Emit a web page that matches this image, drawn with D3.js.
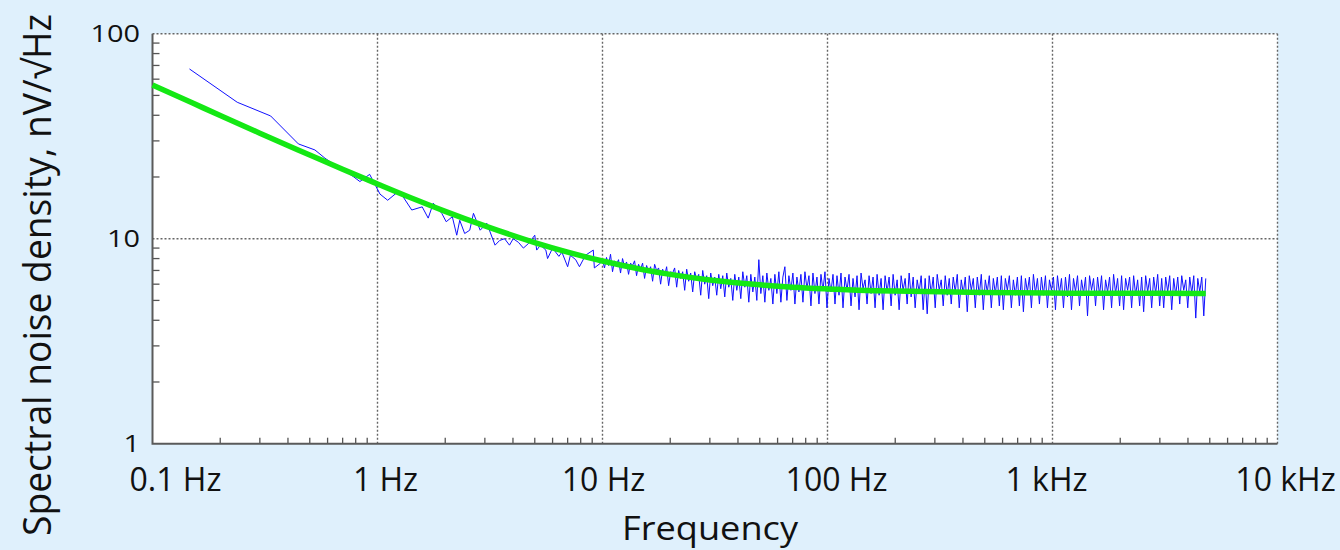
<!DOCTYPE html>
<html>
<head>
<meta charset="utf-8">
<script src="https://cdn.jsdelivr.net/npm/d3@7"></script>
<style>
  html, body { margin: 0; padding: 0; background: #dff0fc; }
  svg { display: block; }
</style>
</head>
<body>
<div id="chart"></div>
<script>
// Tick values and labels
const xTicks = [0.1, 1, 10, 100, 1000, 10000];
const xTickLabels = ["0.1 Hz", "1 Hz", "10 Hz", "100 Hz", "1 kHz", "10 kHz"];
const yTicks = [1, 10, 100];
const yTickLabels = ["1", "10", "100"];

// Green fit curve
const fitFreq = [0.1, 0.15, 0.2, 0.3, 0.5, 0.7, 1, 1.5, 2, 3, 5, 7, 10, 15, 20, 30, 50, 70, 100, 200, 500, 1000, 2000, 4800];
const fitValues = [56.2, 46.0, 39.9, 32.7, 25.6, 21.8, 18.5, 15.4, 13.6, 11.55, 9.58, 8.6, 7.78, 7.08, 6.7, 6.29, 5.96, 5.8, 5.69, 5.55, 5.46, 5.43, 5.42, 5.41];

// Measured noise, low-frequency part (sparse points)
const lowFreq = [0.146, 0.238, 0.335, 0.445, 0.527, 0.584, 0.65, 0.72, 0.78, 0.835, 0.923, 1.026, 1.11, 1.23, 1.30, 1.42, 1.58, 1.68, 1.77, 1.93, 2.02, 2.15, 2.25, 2.32, 2.44, 2.57, 2.67, 2.86, 3.06, 3.33, 3.49, 3.67, 3.86, 4.01, 4.23, 4.45, 4.70, 5.0, 5.1, 5.3, 5.6, 5.7, 6.0, 6.4, 6.6, 7.0, 7.2, 7.6, 7.9, 8.4, 9.1, 9.2, 9.8];
const lowValues = [67.3, 46.3, 39.7, 29.0, 27.1, 24.7, 22.8, 21.3, 20.1, 19.0, 20.6, 16.5, 15.4, 16.9, 16.0, 13.8, 14.3, 12.6, 14.9, 13.3, 12.1, 12.8, 10.4, 12.3, 10.6, 11.0, 13.3, 11.0, 11.9, 9.3, 9.8, 10.0, 9.3, 10.0, 9.6, 9.0, 9.5, 10.4, 8.8, 9.3, 8.8, 8.0, 9.0, 8.2, 8.6, 7.3, 8.3, 7.9, 7.3, 8.3, 8.8, 7.2, 7.6];

// Measured noise, dense part: log-spaced bins from denseStart to denseEnd
const denseStart = 10;
const denseEnd = 4800;
const denseValues = [
  7.9,7.2,8.1,7.4,8.4,6.9,7.8,7.5,7.9,6.8,8.0,7.3,7.7,6.7,7.6,7.4,7.8,6.6,7.5,7.1,
  7.6,6.4,7.4,6.9,7.3,6.2,7.5,7.0,7.2,6.0,7.1,6.6,7.3,5.9,6.9,6.8,7.2,5.8,7.0,6.4,
  6.9,5.6,7.1,6.2,6.8,5.5,6.9,6.3,6.7,5.3,7.0,6.0,6.6,5.1,6.8,5.9,6.5,5.3,6.7,5.7,
  6.6,5.2,6.8,5.8,6.4,5.0,6.7,5.6,6.5,5.1,6.9,5.8,6.6,4.9,6.7,5.5,6.5,5.0,7.9,5.4,
  6.6,4.9,6.8,5.6,6.4,4.8,6.7,5.4,6.9,4.9,6.5,7.3,5.0,6.6,5.6,6.8,4.8,6.5,5.5,6.7,
  4.9,6.9,5.7,6.6,4.7,6.8,5.4,6.5,4.8,6.7,5.6,6.9,4.6,6.4,5.5,6.7,4.8,6.6,5.3,6.8,
  4.6,6.5,5.6,6.7,4.7,6.4,5.2,6.6,4.5,6.8,5.7,6.3,4.8,6.6,5.4,6.5,4.6,6.7,5.3,6.4,
  4.5,6.6,5.5,6.5,4.7,6.7,5.3,6.3,4.5,6.6,5.6,6.4,4.8,6.8,5.2,6.5,4.6,6.3,5.5,6.6,
  4.5,6.4,4.3,6.6,5.4,6.5,4.6,6.7,5.6,6.3,4.7,6.6,5.3,6.4,4.8,6.5,5.5,6.7,4.6,6.3,
  5.4,6.5,4.4,6.6,5.6,6.4,4.6,6.5,5.3,6.7,4.5,6.3,5.5,6.6,4.6,6.4,5.4,6.5,4.7,6.6,
  4.5,6.4,5.6,6.6,4.6,6.3,5.3,6.5,4.7,6.6,4.4,6.4,5.5,6.5,4.6,6.7,5.4,6.4,4.8,6.5,
  5.3,6.6,4.6,6.3,5.6,6.5,4.5,6.6,5.4,6.4,4.6,6.5,5.2,6.7,4.5,6.4,5.5,6.6,4.7,6.3,
  5.4,6.5,4.2,6.6,5.6,6.4,4.7,6.5,5.3,6.6,4.5,6.3,5.5,6.5,4.6,6.7,5.4,6.4,4.7,6.6,
  4.5,6.4,5.6,6.5,4.6,6.6,5.3,6.3,4.7,6.5,4.4,6.6,5.5,6.4,4.6,6.5,5.4,6.7,4.7,6.4,
  4.6,6.5,5.5,6.6,4.5,6.4,5.3,6.5,4.8,6.6,5.6,6.3,4.6,6.5,5.4,6.6,4.1,6.4,5.5,6.5,4.2,6.4
];

// Dimensions
const width = 1340;
const height = 550;
const marginLeft = 152.5;
const marginRight = 62.5;
const marginTop = 33.7;
const marginBottom = 106.3;

const x = d3.scaleLog()
  .domain([0.1, 10000])
  .range([marginLeft, width - marginRight]);

const y = d3.scaleLog()
  .domain([1, 100])
  .range([height - marginBottom, marginTop]);

const svg = d3.select("#chart")
  .append("svg")
    .attr("width", width)
    .attr("height", height)
    .attr("viewBox", [0, 0, width, height])
    .style("font-family", "'Open Sans', sans-serif");

// background
svg.append("rect")
  .attr("width", width).attr("height", height)
  .attr("fill", "#dff0fc");

// plot area
svg.append("rect")
  .attr("x", marginLeft).attr("y", marginTop)
  .attr("width", width - marginRight - marginLeft)
  .attr("height", height - marginBottom - marginTop)
  .attr("fill", "#ffffff");

const x0 = marginLeft, x1 = width - marginRight;
const y0 = height - marginBottom, y1 = marginTop;

// dotted grid + top/right frame
const grid = svg.append("g")
  .attr("stroke", "#666")
  .attr("stroke-width", 1.4)
  .attr("stroke-dasharray", "2,2");

grid.selectAll("line.vx")
  .data(xTicks.slice(1))
  .join("line")
    .attr("x1", d => x(d)).attr("x2", d => x(d))
    .attr("y1", y1).attr("y2", y0);

grid.selectAll("line.hy")
  .data(yTicks.slice(1))
  .join("line")
    .attr("y1", d => y(d)).attr("y2", d => y(d))
    .attr("x1", x0).attr("x2", x1);

// minor ticks
const minorX = [];
xTicks.slice(0, -1).forEach(t => { for (let k = 2; k <= 9; k++) minorX.push(t * k); });
const minorY = [];
yTicks.slice(0, -1).forEach(t => { for (let k = 2; k <= 9; k++) minorY.push(t * k); });

const ticks = svg.append("g")
  .attr("stroke", "#555")
  .attr("stroke-width", 1.3);

ticks.selectAll("line.mx")
  .data(minorX)
  .join("line")
    .attr("x1", d => x(d)).attr("x2", d => x(d))
    .attr("y1", y0).attr("y2", y0 - 6);

ticks.selectAll("line.my")
  .data(minorY)
  .join("line")
    .attr("y1", d => y(d)).attr("y2", d => y(d))
    .attr("x1", x0).attr("x2", x0 + 7);

// solid left and bottom axes
svg.append("path")
  .attr("d", `M${x0},${y1}V${y0}H${x1}`)
  .attr("fill", "none")
  .attr("stroke", "#5a5a5a")
  .attr("stroke-width", 2);

// measured noise
const dense = denseValues.map((v, i) => [
  denseStart * Math.pow(denseEnd / denseStart, i / (denseValues.length - 1)), v
]);
const noise = lowFreq.map((f, i) => [f, lowValues[i]]).concat(dense);

const line = d3.line()
  .x(d => x(d[0]))
  .y(d => y(d[1]));

svg.append("path")
  .datum(noise)
  .attr("fill", "none")
  .attr("stroke", "#1010ff")
  .attr("stroke-width", 1)
  .attr("d", line);

// fit curve
svg.append("path")
  .datum(fitFreq.map((f, i) => [f, fitValues[i]]))
  .attr("fill", "none")
  .attr("stroke", "#14e814")
  .attr("stroke-width", 5.5)
  .attr("stroke-linejoin", "round")
  .attr("d", line.curve(d3.curveMonotoneX));

// x tick labels
const labelShift = [23, 8, 1, 9, -6, 8];
svg.append("g")
  .attr("font-size", 32)
  .attr("fill", "#111")
  .attr("text-anchor", "middle")
  .selectAll("text")
  .data(xTicks)
  .join("text")
    .attr("x", (d, i) => x(d) + labelShift[i])
    .attr("y", 491)
    .text((d, i) => xTickLabels[i]);

// y tick labels
svg.append("g")
  .attr("font-size", 23)
  .attr("fill", "#111")
  .attr("text-anchor", "end")
  .selectAll("text")
  .data(yTicks)
  .join("text")
    .attr("x", 140)
    .attr("y", d => y(d))
    .attr("dy", "0.36em")
    .attr("textLength", (d, i) => yTickLabels[i].length * 16.5)
    .attr("lengthAdjust", "spacingAndGlyphs")
    .text((d, i) => yTickLabels[i]);

// axis titles
svg.append("text")
  .attr("x", 710)
  .attr("y", 540)
  .attr("text-anchor", "middle")
  .attr("font-size", 32)
  .attr("fill", "#111")
  .attr("textLength", 176)
  .attr("lengthAdjust", "spacingAndGlyphs")
  .text("Frequency");

svg.append("text")
  .attr("transform", "translate(51,275) rotate(-90)")
  .attr("text-anchor", "middle")
  .attr("font-size", 38)
  .attr("fill", "#111")
  .attr("textLength", 522)
  .attr("lengthAdjust", "spacingAndGlyphs")
  .text("Spectral noise density, nV/√Hz");
</script>
</body>
</html>
